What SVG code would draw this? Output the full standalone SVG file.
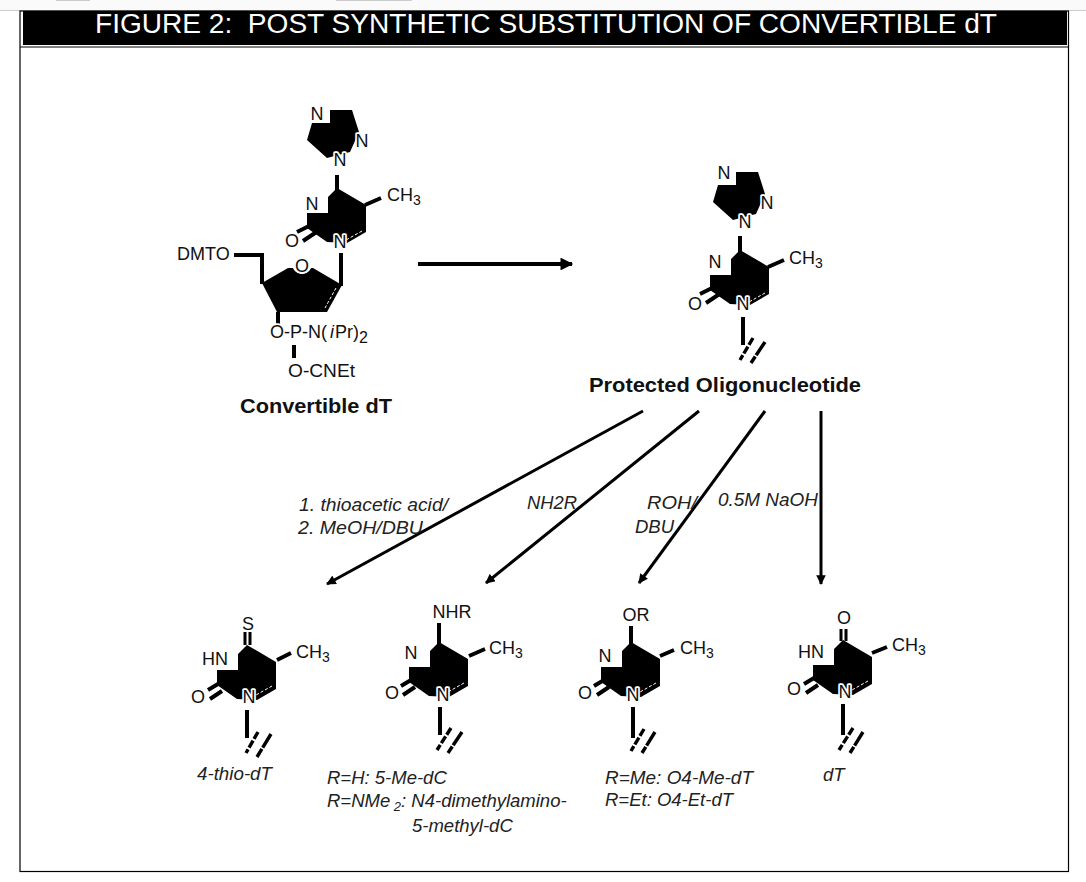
<svg xmlns="http://www.w3.org/2000/svg" width="1086" height="882" viewBox="0 0 1086 882">
<style>
text{font-family:"Liberation Sans",Arial,sans-serif;fill:#111;white-space:pre}
.a{font-size:18px;stroke:#fff;stroke-width:3.5px;paint-order:stroke;stroke-linejoin:round}
.m{text-anchor:middle}
.b{font-size:21px;font-weight:bold}
.i{font-size:18.5px;font-style:italic;fill:#222}
.s{stroke:#000;stroke-width:4;fill:none}
.t{stroke:#000;stroke-width:3;fill:none}
.d{stroke:#000;stroke-width:3.4;fill:none;stroke-dasharray:8 2}
.e{stroke:#000;stroke-width:3.4;fill:none;stroke-dasharray:16 1.5}
.w{stroke:#fff;stroke-width:1;fill:none;stroke-dasharray:3 2}
</style>
<defs>
<path id="ring" d="M0 0L29 17V44L10 55L-10 54L-30 40V25H-9V9Z" fill="#000"/>
<path id="tri" d="M23 0H45L52 22L43 42L20 48L0 30L5 13H23Z" fill="#000"/>
<marker id="h" viewBox="0 0 10 10" refX="9" refY="5" markerWidth="3.4" markerHeight="3.2" orient="auto"><path d="M0 0L10 5L0 10Z" fill="#000"/></marker>
</defs>
<rect width="1086" height="882" fill="#fff"/>
<rect width="1086" height="10" fill="#fafafa"/>
<rect y="10" width="1086" height="1" fill="#ccc"/>
<rect x="56" width="34" height="1" fill="#ccc"/>
<rect x="336" width="76" height="1" fill="#ccc"/>
<rect x="20" y="11" width="1048.5" height="860.5" fill="none" stroke="#000" stroke-width="1.2"/>
<g id="banner">
<rect x="23" y="11" width="1044" height="34" fill="#000"/>
<path d="M20 47H1069" stroke="#000" stroke-width="1.2"/>
<text x="95" y="32.5" font-size="27px" textLength="902" lengthAdjust="spacingAndGlyphs" style="fill:#fff">FIGURE 2:  POST SYNTHETIC SUBSTITUTION OF CONVERTIBLE dT</text>
</g>

<g id="connectors">
<path class="s" d="M418 264H572" marker-end="url(#h)"/>
<path class="t" d="M643 411L327 584" marker-end="url(#h)"/>
<path class="t" d="M699 411L486 583" marker-end="url(#h)"/>
<path class="t" d="M765 411L639 583" marker-end="url(#h)"/>
<path class="t" d="M821 411V584" marker-end="url(#h)"/>
</g>

<g id="convertible-dT">
<use href="#tri" x="307" y="110"/>
<use href="#ring" x="337" y="188"/>
<path class="w" d="M362 231L346 240"/>
<path class="s" d="M337 175V190M365 205L381 198M297 232L309 226M303 241L318 231"/>
<path class="s" d="M234 255H262V284M341 253V286M278 312V325M294 345V358"/>
<path d="M262 283L288 268H313L342 285L327 312H277Z" fill="#000"/>
<path class="w" d="M336 288L325 308"/>
<circle cx="302" cy="264" r="10" fill="#fff"/>
<text class="a m" x="317" y="120">N</text>
<text class="a m" x="362" y="147">N</text>
<text class="a m" x="340" y="166">N</text>
<text class="a m" x="312" y="210">N</text>
<text class="a m" x="340" y="248">N</text>
<text class="a m" x="292" y="247">O</text>
<text class="a" x="387" y="201">CH<tspan dy="4" font-size="14px">3</tspan></text>
<text class="a m" x="302" y="272">O</text>
<text class="a" x="177" y="260">DMTO</text>
<text class="a" x="270" y="338">O-P-N(<tspan dx="3" font-style="italic">i</tspan><tspan dx="1">Pr)</tspan><tspan dy="5" font-size="16px">2</tspan></text>
<text class="a" x="288" y="377" textLength="67" lengthAdjust="spacingAndGlyphs">O-CNEt</text>
<text class="b" x="240" y="413" textLength="152" lengthAdjust="spacingAndGlyphs">Convertible dT</text>
</g>

<g id="protected-oligonucleotide">
<use href="#tri" x="713" y="172"/>
<use href="#ring" x="740" y="250"/>
<path class="w" d="M765 293L749 302"/>
<path class="s" d="M740 236V252M768 267L784 260M700 294L712 288M706 303L721 293"/>
<path class="s" d="M743 317V345"/>
<path class="d" d="M753 338L740 360"/>
<path class="e" d="M765 342L751 363"/>
<text class="a m" x="724" y="179">N</text>
<text class="a m" x="767" y="209">N</text>
<text class="a m" x="745" y="228">N</text>
<text class="a m" x="715" y="268">N</text>
<text class="a m" x="743" y="310">N</text>
<text class="a m" x="695" y="310">O</text>
<text class="a" x="789" y="264">CH<tspan dy="4" font-size="14px">3</tspan></text>
<text class="b" x="589" y="392" textLength="272" lengthAdjust="spacingAndGlyphs">Protected Oligonucleotide</text>
</g>

<g id="thio-dT">
<use href="#ring" x="247" y="645"/>
<path class="w" d="M272 686L256 695"/>
<path class="s" d="M277 660L291 653M208 690L218 684M210 699L222 691"/>
<path class="t" d="M245 632V645M250 632V645"/>
<path class="s" d="M247 710V738"/>
<path class="d" d="M258 732L246 753"/>
<path class="e" d="M271 734L257 757"/>
<text class="a m" x="248" y="630">S</text>
<text class="a" x="202" y="665">HN</text>
<text class="a m" x="198" y="703">O</text>
<text class="a m" x="249" y="703">N</text>
<text class="a" x="296" y="658">CH<tspan dy="4" font-size="14px">3</tspan></text>
<text class="i" x="197" y="780" textLength="75" lengthAdjust="spacingAndGlyphs">4-thio-dT</text>
</g>

<g id="me-dC">
<use href="#ring" x="439" y="642"/>
<path class="w" d="M464 683L448 692"/>
<path class="s" d="M469 656L485 649M401 686L411 680M403 695L415 687"/>
<path class="s" d="M439 623V644M440 707V735"/>
<path class="d" d="M451 728L437 750"/>
<path class="e" d="M462 732L448 753"/>
<text class="a m" x="452" y="618">NHR</text>
<text class="a m" x="411" y="659">N</text>
<text class="a m" x="392" y="699">O</text>
<text class="a m" x="443" y="701">N</text>
<text class="a" x="489" y="654">CH<tspan dy="4" font-size="14px">3</tspan></text>
<text class="i" x="327" y="784">R=H: 5-Me-dC</text>
<text class="i" x="327" y="807">R=NMe<tspan dy="4" font-size="13px"> 2</tspan><tspan dy="-4">: N4-dimethylamino-</tspan></text>
<text class="i" x="412" y="832">5-methyl-dC</text>
</g>

<g id="o4-dT">
<use href="#ring" x="631" y="642"/>
<path class="w" d="M656 683L640 692"/>
<path class="s" d="M660 656L674 650M594 686L604 680M597 695L609 687"/>
<path class="s" d="M631 626V644M633 707V738"/>
<path class="d" d="M644 729L631 751"/>
<path class="e" d="M655 732L642 753"/>
<text class="a m" x="636" y="621">OR</text>
<text class="a m" x="605" y="662">N</text>
<text class="a m" x="585" y="699">O</text>
<text class="a m" x="633" y="701">N</text>
<text class="a" x="680" y="654">CH<tspan dy="4" font-size="14px">3</tspan></text>
<text class="i" x="605" y="784" textLength="148" lengthAdjust="spacingAndGlyphs">R=Me: O4-Me-dT</text>
<text class="i" x="605" y="806" textLength="128" lengthAdjust="spacingAndGlyphs">R=Et: O4-Et-dT</text>
</g>

<g id="dT">
<use href="#ring" x="843" y="640"/>
<path class="w" d="M868 681L852 690"/>
<path class="s" d="M872 653L887 647M804 684L814 678M806 693L818 685"/>
<path class="t" d="M841 629V641M846 629V641"/>
<path class="s" d="M843 704V735"/>
<path class="d" d="M853 728L839 750"/>
<path class="e" d="M863 732L850 753"/>
<text class="a m" x="844" y="624">O</text>
<text class="a" x="798" y="658">HN</text>
<text class="a m" x="794" y="695">O</text>
<text class="a m" x="845" y="698">N</text>
<text class="a" x="892" y="651">CH<tspan dy="4" font-size="14px">3</tspan></text>
<text class="i" x="823" y="781">dT</text>
</g>

<g id="reagents">
<text class="i" x="299" y="511" textLength="149" lengthAdjust="spacingAndGlyphs">1. thioacetic acid/</text>
<text class="i" x="298" y="534" textLength="125" lengthAdjust="spacingAndGlyphs">2. MeOH/DBU</text>
<text class="i" x="527" y="509" textLength="50" lengthAdjust="spacingAndGlyphs">NH2R</text>
<text class="i" x="647" y="509" textLength="50" lengthAdjust="spacingAndGlyphs">ROH/</text>
<text class="i" x="635" y="533">DBU</text>
<text class="i" x="718" y="506" textLength="100" lengthAdjust="spacingAndGlyphs">0.5M NaOH</text>
</g>
</svg>
